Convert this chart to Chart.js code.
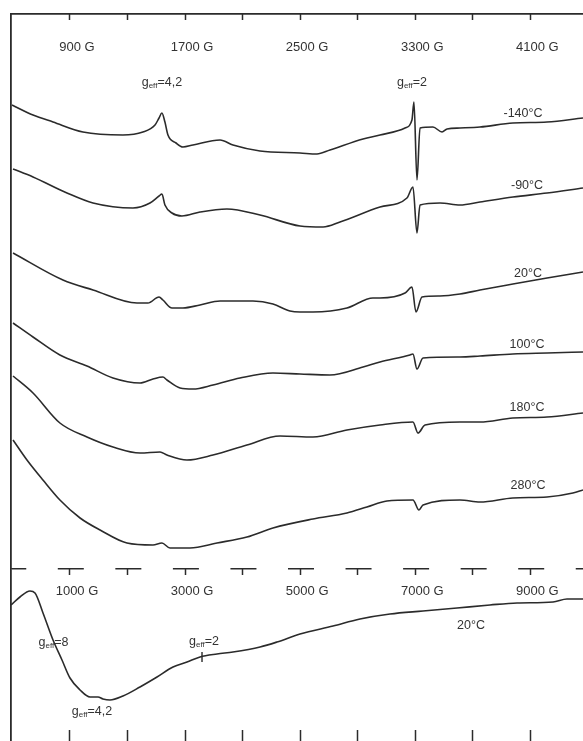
<!DOCTYPE html>
<html><head><meta charset="utf-8">
<script src="https://cdn.jsdelivr.net/npm/chart.js@4/dist/chart.umd.min.js"></script>
<style>
html,body{margin:0;padding:0;background:#fff;}
#wrap{position:relative;width:583px;height:741px;overflow:hidden;background:#fff;}
canvas{position:absolute;left:0;}
#cTop{top:0;}
#cBot{top:560px;}
.lbl{position:absolute;transform:translate(-50%,-50%);font-family:'Liberation Sans',Arial,sans-serif;font-size:12.5px;color:#333;white-space:nowrap;line-height:1;}
.lbl sub{font-size:8px;vertical-align:-2px;line-height:1;}
</style></head><body>
<div id="wrap">
<canvas id="cTop" width="583" height="569"></canvas>
<canvas id="cBot" width="583" height="181"></canvas>
</div>
<script>
// ---------- Top panel: EPR spectra at several temperatures (field in G, intensity in arbitrary units) ----------
const fieldM140 = [497,643,782,990,1268,1407,1491,1519,1539,1560,1581,1637,1685,1755,1943,2033,2221,2499,2617,2707,2937,3055,3229,3277,3291,3312,3333,3423,3486,3521,3611,3750,3979,4216,4466];
const intM140   = [464,454,447,437,434,437,444,451,456,447,434,426,422,424,429,424,418,416,415,419,430,434,441,449,467,389,441,442,437,440,441,442,446,447,451];

const fieldM90 = [504,643,879,1060,1338,1456,1519,1539,1560,1609,1678,1804,1991,2221,2499,2659,2777,3055,3242,3284,3312,3333,3472,3611,3750,3979,4216,4466];
const intM90   = [400,392,376,366,361,366,373,375,364,356,353,357,360,354,343,342,347,362,371,382,336,364,366,364,367,372,376,381];

const field20 = [504,851,1060,1366,1442,1519,1546,1609,1685,1804,1943,2172,2311,2429,2499,2589,2825,3006,3055,3229,3277,3305,3347,3472,3611,3750,3979,4216,4466];
const int20   = [316,289,279,266,266,272,269,261,261,264,268,268,265,258,257,257,261,271,271,276,282,257,272,273,275,279,285,291,297];

const field100 = [504,643,830,1018,1199,1387,1477,1546,1574,1665,1755,1894,2082,2311,2499,2707,2937,3055,3263,3284,3312,3354,3611,3750,3979,4216,4466];
const int100   = [246,232,214,203,191,186,190,192,189,181,180,184,191,196,195,194,202,207,214,215,200,211,212,213,215,216,217];

const field180 = [504,643,830,1018,1199,1387,1526,1574,1713,1894,2130,2360,2589,2825,3055,3284,3319,3368,3611,3750,3979,4216,4466];
const int180   = [193,176,146,132,122,116,117,114,109,114,124,133,132,139,144,147,136,144,147,147,151,152,156];

const field280 = [504,601,712,830,970,1109,1296,1477,1539,1595,1734,1922,2130,2311,2589,2825,2964,3103,3284,3326,3354,3611,3750,3979,4216,4396,4466];
const int280   = [129,109,89,69,51,39,26,24,26,21,21,26,32,41,50,56,62,68,69,59,64,69,67,71,72,76,79];

const topTicks   = [900,1300,1700,2100,2500,2900,3300,3700,4100];
const topLabeled = [900,1700,2500,3300,4100];

const topNames  = ['-140°C','-90°C','20°C','100°C','180°C','280°C'];
const topFields = [fieldM140, fieldM90, field20, field100, field180, field280];
const topInts   = [intM140, intM90, int20, int100, int180, int280];

// annotation texts with their anchor (field G, intensity a.u.)
const topNoteText  = ['g<sub>eff</sub>=4,2','g<sub>eff</sub>=2','-140°C','-90°C','20°C','100°C','180°C','280°C'];
const topNoteField = [1539,3277,4049,4077,4084,4077,4077,4084];
const topNoteValue = [486,486,456,384,296,225,162,84];

// ---------- Bottom panel: wide sweep at 20°C ----------
const fieldWide = [-25,131,305,392,531,705,861,1000,1174,1348,1487,1573,1695,1921,2216,2512,2790,3033,3259,3554,3832,4302,4597,4997,5570,6039,6561,7134,7725,8298,8768,9393,9636,9914];
const intWide   = [136,144,150,148,128,101,81,63,51,44,44,42,41,45,54,64,74,79,84,87,89,94,99,107,115,122,127,130,133,136,138,139,142,142];
const markField = [3294,3294];
const markInt   = [89,79];

const botTicks   = [1000,2000,3000,4000,5000,6000,7000,8000,9000];
const botLabeled = [1000,3000,5000,7000,9000];

const botNoteText  = ['g<sub>eff</sub>=8','g<sub>eff</sub>=2','g<sub>eff</sub>=4,2','20°C'];
const botNoteField = [713,3329,1382,7968];
const botNoteValue = [98,99,29,116];

// ---------- styling ----------
const ink = '#2b2b2b';
const txt = '#333';
const fontFam = "'Liberation Sans', Arial, sans-serif";

function lineDs(name, xs, ys, w, smooth){
  const ds = {label:name, data: xs.map((x,i)=>({x:x, y:ys[i]})), borderColor:ink, borderWidth:w||1.6,
          pointRadius:0, fill:false, tension:0};
  if (smooth) ds.cubicInterpolationMode = 'monotone';
  return ds;
}

const topChart = new Chart(document.getElementById('cTop'), {
  type:'line',
  data:{datasets: topNames.map((n,i)=>lineDs(n, topFields[i], topInts[i], 1.6, true))},
  options:{
    responsive:false, animation:false, devicePixelRatio:1,
    layout:{padding:0},
    plugins:{legend:{display:false}, tooltip:{enabled:false}},
    scales:{
      x:{type:'linear', position:'top', min:490, max:4466,
        afterBuildTicks:s=>{ s.ticks = topTicks.map(v=>({value:v})); },
        afterFit:s=>{ s.height = 14; },
        ticks:{autoSkip:false, maxRotation:0, minRotation:0, mirror:true, padding:26, labelOffset:7, color:txt,
          font:{family:fontFam, size:13}, callback:v=> topLabeled.includes(v) ? v+' G' : ''},
        grid:{display:true, drawOnChartArea:false, drawTicks:true, tickLength:-6, tickColor:ink, tickWidth:1.5},
        border:{display:true, color:ink, width:1.8}
      },
      y:{type:'linear', min:0, max:555,
        afterFit:s=>{ s.width = 11; },
        ticks:{display:false}, grid:{display:false},
        border:{display:true, color:ink, width:1.8}
      }
    }
  }
});

const botChart = new Chart(document.getElementById('cBot'), {
  type:'line',
  data:{datasets:[lineDs('20°C wide', fieldWide, intWide, 1.6, true), lineDs('g=2 mark', markField, markInt, 1.4, false)]},
  options:{
    responsive:false, animation:false, devicePixelRatio:1,
    layout:{padding:0},
    plugins:{legend:{display:false}, tooltip:{enabled:false}},
    scales:{
      x:{type:'linear', position:'top', min:-25, max:9914,
        afterBuildTicks:s=>{ s.ticks = botTicks.map(v=>({value:v})); },
        afterFit:s=>{ s.height = 9; },
        ticks:{autoSkip:false, maxRotation:0, minRotation:0, mirror:true, padding:15, labelOffset:7, color:txt,
          font:{family:fontFam, size:13}, callback:v=> botLabeled.includes(v) ? v+' G' : ''},
        grid:{display:true, drawOnChartArea:false, drawTicks:true, tickLength:-6, tickColor:ink, tickWidth:1.5},
        border:{display:false}
      },
      xb:{type:'linear', position:'bottom', min:-25, max:9914,
        afterBuildTicks:s=>{ s.ticks = botTicks.map(v=>({value:v})); },
        afterFit:s=>{ s.height = 0; },
        ticks:{display:false},
        grid:{display:true, drawOnChartArea:false, drawTicks:true, tickLength:-11, tickColor:ink, tickWidth:1.5},
        border:{display:false}
      },
      y:{type:'linear', min:0, max:172,
        afterBuildTicks:s=>{ s.ticks = [{value:172}]; },
        afterFit:s=>{ s.width = 11; },
        ticks:{display:false},
        grid:{display:true, drawOnChartArea:true, drawTicks:false, color:ink, lineWidth:1.6},
        border:{display:true, color:ink, width:1.8, dash:[26,31.55], dashOffset:11.55}
      }
    }
  }
});

// text annotations as real DOM text, anchored through the chart scales
const wrap = document.getElementById('wrap');
function addNotes(chart, top, texts, fields, values){
  texts.forEach((t,i)=>{
    const d = document.createElement('div');
    d.className = 'lbl';
    d.innerHTML = t;
    d.style.left = chart.scales.x.getPixelForValue(fields[i]) + 'px';
    d.style.top = (top + chart.scales.y.getPixelForValue(values[i])) + 'px';
    wrap.appendChild(d);
  });
}
addNotes(topChart, 0, topNoteText, topNoteField, topNoteValue);
addNotes(botChart, 560, botNoteText, botNoteField, botNoteValue);
</script>
</body></html>
